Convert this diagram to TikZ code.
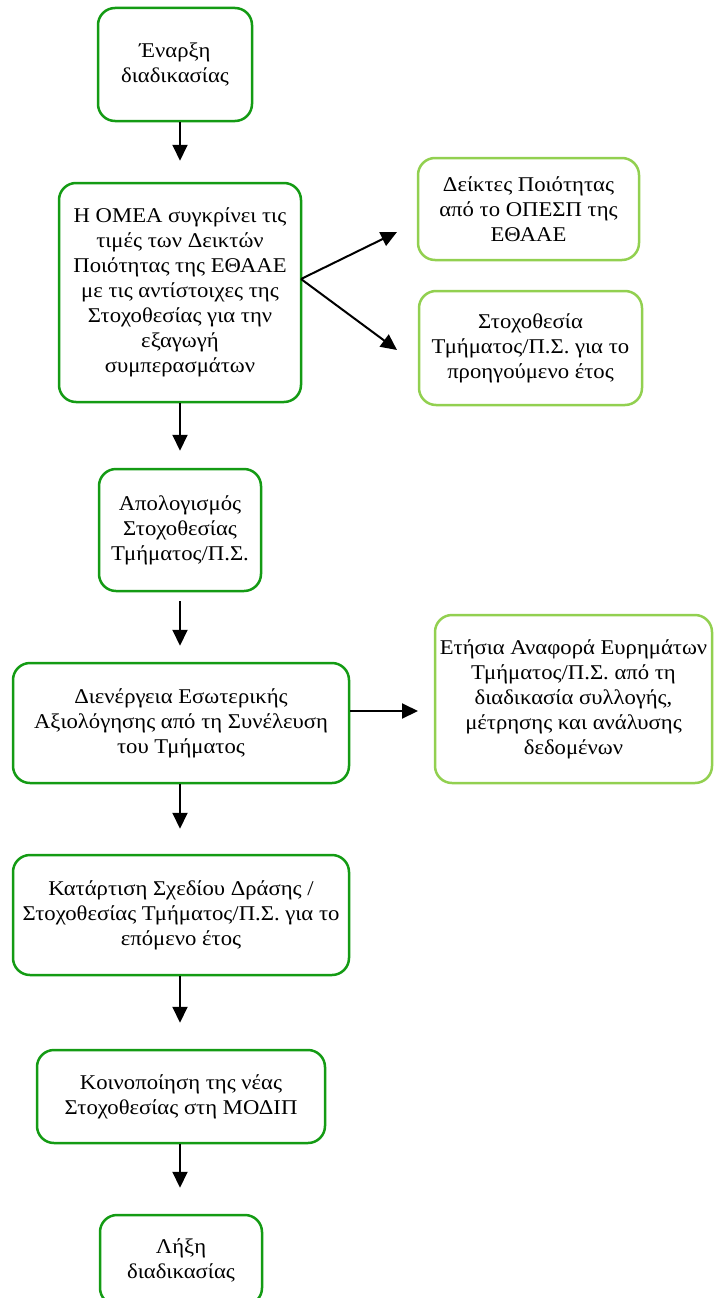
\documentclass[tikz,border=0pt]{standalone}
\usepackage{fontspec}
\setmainfont{Liberation Serif}[FakeStretch=1.08]
\usetikzlibrary{arrows.meta}
\definecolor{stepgreen}{RGB}{20,155,20}
\definecolor{sidegreen}{RGB}{146,208,80}

\begin{document}
\begin{tikzpicture}[x=1pt,y=-1pt]
                        \tikzstyle{box}=[draw=stepgreen, line width=2.5pt, rounded corners=17pt, align=center, inner sep=0pt, font=\fontsize{21}{25}\selectfont]
                        \tikzstyle{sidebox}=[box, draw=sidegreen]
                        \tikzstyle{arr}=[line width=2pt, -{Triangle[width=15pt,length=16pt]}]
                        \useasboundingbox (0,0) rectangle (714,1298);
                        % main column
                        \node[box, minimum width=154pt, minimum height=113pt] (start) at (175,64.5) {Έναρξη\\διαδικασίας};
                        \node[box, minimum width=242pt, minimum height=219pt] (compare) at (180,292.5)
                            {Η ΟΜΕΑ συγκρίνει τις\\τιμές των Δεικτών\\Ποιότητας της ΕΘΑΑΕ\\με τις αντίστοιχες της\\Στοχοθεσίας για την\\εξαγωγή\\συμπερασμάτων};
                        \node[box, minimum width=162pt, minimum height=122pt] (account) at (180,530) {Απολογισμός\\Στοχοθεσίας\\Τμήματος/Π.Σ.};
                        \node[box, minimum width=336pt, minimum height=120pt] (evaluate) at (181,723)
                            {Διενέργεια Εσωτερικής\\Αξιολόγησης από τη Συνέλευση\\του Τμήματος};
                        \node[box, minimum width=336pt, minimum height=120pt] (plan) at (181,915)
                            {Κατάρτιση Σχεδίου Δράσης /\\Στοχοθεσίας Τμήματος/Π.Σ. για το\\επόμενο έτος};
                        \node[box, minimum width=288pt, minimum height=93pt] (notify) at (181,1096.5)
                            {Κοινοποίηση της νέας\\Στοχοθεσίας στη ΜΟΔΙΠ};
                        \node[box, minimum width=162pt, minimum height=90pt] (finish) at (181,1260) {Λήξη\\διαδικασίας};
                        % side boxes
                        \node[sidebox, minimum width=221pt, minimum height=102pt] (indicators) at (528.5,209)
                            {Δείκτες Ποιότητας\\από το ΟΠΕΣΠ της\\ΕΘΑΑΕ};
                        \node[sidebox, minimum width=223pt, minimum height=114pt] (previous) at (530.5,348)
                            {Στοχοθεσία\\Τμήματος/Π.Σ. για το\\προηγούμενο έτος};
                        \node[sidebox, minimum width=277pt, minimum height=168pt] (annual) at (573.5,699)
                            {Ετήσια Αναφορά Ευρημάτων\\Τμήματος/Π.Σ. από τη\\διαδικασία συλλογής,\\μέτρησης και ανάλυσης\\δεδομένων};
                        \coordinate (fork) at (301,279);
                        \coordinate (indin) at (397,232);
                        \coordinate (previn) at (397,350);
                        \coordinate (annin) at (418,711);
                        % arrows
                        \draw[arr, shorten >=21pt] (start.south -| compare.north) -- (compare.north);
                        \draw[arr, shorten >=17pt] (compare.south) -- (account.north);
                        \draw[arr, shorten <=9pt, shorten >=16pt] (account.south) -- (account.south |- evaluate.north);
                        \draw[arr, shorten >=25pt] (account.south |- evaluate.south) -- (account.south |- plan.north);
                        \draw[arr, shorten >=26pt] (account.south |- plan.south) -- (account.south |- notify.north);
                        \draw[arr, shorten >=26pt] (account.south |- notify.south) -- (account.south |- finish.north);
                        \draw[arr] (fork) -- (indin);
                        \draw[arr] (fork) -- (previn);
                        \draw[arr] (evaluate.east |- annin) -- (annin);
                    \end{tikzpicture}
\end{document}
